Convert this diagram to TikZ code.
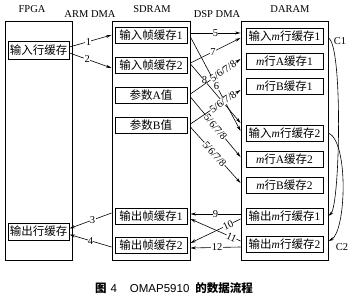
\documentclass[tikz,border=0pt]{standalone}
\usepackage{fontspec}
\setmainfont{Liberation Serif}
\newfontfamily\cjkfont{Noto Sans CJK SC}
\newfontfamily\capsans{Liberation Sans}
\usetikzlibrary{arrows.meta,calc}
\newcommand\zh[1]{{\cjkfont #1}}
\begin{document}
\begin{tikzpicture}[x=1pt,y=-1pt,
  outerbox/.style={draw,line width=0.9pt,inner sep=0pt,minimum height=239pt},
  cell/.style={draw,line width=0.9pt,inner sep=0pt,minimum height=16pt,font=\fontsize{11.5}{12}\selectfont},
  flow/.style={line width=0.6pt,-{Stealth[length=5.5pt,width=3pt]}},
  num/.style={fill=white,inner sep=0.3pt,font=\fontsize{10.5}{11}\selectfont},
  head/.style={font=\fontsize{10.5}{12}\selectfont}]
\useasboundingbox (0,0) rectangle (350,296);

% headers
\node[head] (tf) at (32,9) {FPGA};
\node[head] (ta) at (90,14) {ARM DMA};
\node[head] (ts) at (152,9) {SDRAM};
\node[head] (td) at (217,14) {DSP DMA};
\node[head] (tr) at (290,9) {DARAM};

% outer boxes
\node[outerbox,minimum width=67pt] (fpga) at (38.5,140.5) {};
\node[outerbox,minimum width=78pt] (sdram) at (151,140.5) {};
\node[outerbox,minimum width=87pt] (daram) at (284.5,140.5) {};

% FPGA cells
\node[cell,minimum width=61pt,minimum height=18pt] (fin) at (38.5,50) {\zh{输入行缓存}};
\node[cell,minimum width=61pt,minimum height=17pt] (fout) at (38.5,231.5) {\zh{输出行缓存}};

% SDRAM cells
\node[cell,minimum width=72pt] (sin1) at (151,35) {\zh{输入帧缓存}1};
\node[cell,minimum width=72pt] (sin2) at (151,65) {\zh{输入帧缓存}2};
\node[cell,minimum width=72pt] (pa) at (151,95) {\zh{参数}A\zh{值}};
\node[cell,minimum width=72pt] (pb) at (151,125) {\zh{参数}B\zh{值}};
\node[cell,minimum width=72pt] (sout1) at (151,216) {\zh{输出帧缓存}1};
\node[cell,minimum width=72pt] (sout2) at (151,245) {\zh{输出帧缓存}2};

% DARAM cells
\node[cell,minimum width=77pt] (dim1) at (284.5,36) {\zh{输入}\textit{m}\zh{行缓存}1};
\node[cell,minimum width=77pt] (dA1) at (284.5,61) {\textit{m}\zh{行}A\zh{缓存}1};
\node[cell,minimum width=77pt] (dB1) at (284.5,86) {\textit{m}\zh{行}B\zh{缓存}1};
\node[cell,minimum width=77pt] (dim2) at (284.5,133) {\zh{输入}\textit{m}\zh{行缓存}2};
\node[cell,minimum width=77pt] (dA2) at (284.5,159) {\textit{m}\zh{行}A\zh{缓存}2};
\node[cell,minimum width=77pt] (dB2) at (284.5,185) {\textit{m}\zh{行}B\zh{缓存}2};
\node[cell,minimum width=77pt] (dout1) at (284.5,216) {\zh{输出}\textit{m}\zh{行缓存}1};
\node[cell,minimum width=77pt] (dout2) at (284.5,244) {\zh{输出}\textit{m}\zh{行缓存}2};

% ARM DMA flows
\draw[flow] ($(fin.east)+(0,-3)$) -- node[num,pos=0.45] {1} (sdram.west |- sin1);
\draw[flow] ($(fin.east)+(0,3)$) -- node[num,pos=0.42] {2} ($(sdram.west |- sin2)+(0,3)$);
\draw[flow] ($(sdram.west |- sout1)+(0,-3)$) -- node[num,pos=0.45] {3} ($(fout.east)+(0,-3)$);
\draw[flow] ($(sdram.west |- sout2)+(0,2)$) -- node[num,pos=0.5] {4} ($(fout.east)+(0,3)$);

% DSP DMA flows in
\draw[flow] ($(sdram.east |- sin1)+(0,-2)$) -- node[num,pos=0.5] {5} ($(daram.west |- dim1)+(0,-3)$);
\draw[flow] ($(sdram.east |- sin2)+(0,-2)$) -- node[num,pos=0.45] {7} ($(daram.west |- dim1)+(0,2)$);
\draw[flow] ($(sdram.east |- sin1)+(0,2)$) -- node[num,pos=0.52] {6} ($(daram.west |- dim2)+(0,-2)$);
\draw[flow] ($(sdram.east |- sin2)+(0,-1)$) -- node[num,pos=0.28] {8} ($(daram.west |- dim2)+(0,-10)$);
\draw[flow] ($(sdram.east |- pa)+(0,-1)$) -- node[num,sloped,pos=0.65] {5/6/7/8} ($(daram.west |- dA1)+(0,-2)$);
\draw[flow] ($(sdram.east |- pb)+(0,-1)$) -- node[num,sloped,pos=0.65] {5/6/7/8} ($(daram.west |- dB1)+(0,4)$);
\draw[flow] ($(sdram.east |- pa)+(0,2)$) -- node[num,sloped,pos=0.5] {5/6/7/8} ($(daram.west |- dA2)+(0,-2)$);
\draw[flow] ($(sdram.east |- pb)+(0,2)$) -- node[num,sloped,pos=0.48] {5/6/7/8} ($(daram.west |- dB2)+(0,-2)$);

% DSP DMA flows out
\draw[flow] ($(daram.west |- dout1)+(0,-2)$) -- node[num,pos=0.5] {9} ($(sdram.east |- sout1)+(0,-2)$);
\draw[flow] ($(daram.west |- dout1)+(0,3)$) -- node[num,sloped,pos=0.25] {10} ($(sdram.east |- sout2)+(0,-2)$);
\draw[flow] ($(daram.west |- dout2)+(0,-3)$) -- node[num,sloped,pos=0.18] {11} ($(sdram.east |- sout1)+(0,3)$);
\draw[flow] ($(daram.west |- dout2)+(0,3)$) -- node[num,pos=0.47] {12} ($(sdram.east |- sout2)+(0,3)$);

% cycles
\draw[flow] ($(daram.east |- dim1)+(0,2)$) .. controls (343,45) and (340,205) .. (daram.east |- dout1);
\draw[flow] (daram.east |- dim2) .. controls (349,142) and (346,232) .. ($(daram.east |- dout2)+(0,-3)$);
\node[font=\fontsize{10.5}{11}\selectfont] (c1) at (340,41) {C1};
\node[font=\fontsize{10.5}{11}\selectfont] (c2) at (342,247) {C2};

% caption
\node[font=\fontsize{11.5}{12}\selectfont] (cap) at (174,288) {\zh{\bfseries 图}\hspace{4pt}{\capsans 4}\hspace{13pt}{\capsans OMAP5910}\hspace{6pt}\zh{\bfseries 的数据流程}};
\end{tikzpicture}
\end{document}
